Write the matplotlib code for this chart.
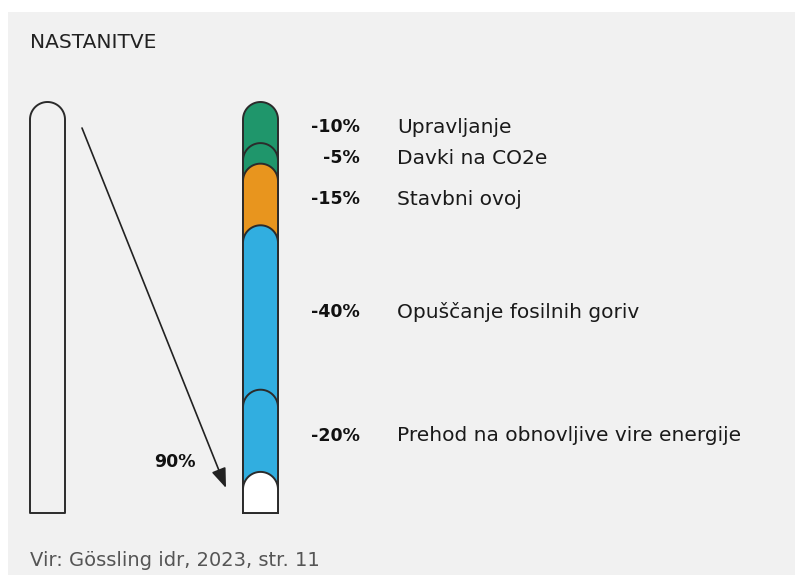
import numpy as np
import matplotlib
matplotlib.use("Agg")
import matplotlib.pyplot as plt
from matplotlib.patches import Polygon, Rectangle

# Reduction steps (percent of emissions), top to bottom
labels = ["Upravljanje", "Davki na CO2e", "Stavbni ovoj",
          "Opuščanje fosilnih goriv", "Prehod na obnovljive vire energije"]
reductions = [10, 5, 15, 40, 20]
colors = ["#1f966b", "#1f966b", "#e8951e", "#31aee0", "#31aee0"]
total = 100
remaining = total - sum(reductions)
total_cut = sum(reductions)

W, H = 795, 575
S = 4.11          # pixels per percent unit
BASE = 513        # pixel row of the 0 % line

fig = plt.figure(figsize=(W / 100, H / 100), dpi=100)
fig.patch.set_facecolor("white")
ax = fig.add_axes([0, 0, 1, 1])
ax.set_xlim(0, W / S)
ax.set_ylim(-(H - BASE) / S, BASE / S)
ax.set_aspect("equal")
ax.axis("off")


def px(x, y):
    return x / S, (BASE - y) / S


# light panel behind everything
x0, y0 = px(8, H)
ax.add_patch(Rectangle((x0, y0), (W - 8) / S, (H - 12) / S,
                       facecolor="#f1f1f1", edgecolor="none", zorder=0))

EDGE = "#2b2b2b"
bar_w = 35 / S
r = bar_w / 2


def capsule(x, top, color, z):
    t = np.linspace(np.pi, 0, 60)
    cx, cy = x + r, top - r
    arc = np.column_stack([cx + r * np.cos(t), cy + r * np.sin(t)])
    pts = np.vstack([[x, 0], arc, [x + bar_w, 0]])
    ax.add_patch(Polygon(pts, closed=True, facecolor=color, edgecolor=EDGE,
                         lw=1.4, zorder=z, joinstyle="round"))


# full emissions column
capsule(30 / S, total, "#f1f1f1", 2)

# stacked column: every step covers everything below it
bar_x = 243 / S
tops = total - np.concatenate([[0], np.cumsum(reductions)])
for i, (top, c) in enumerate(zip(tops[:-1], colors)):
    capsule(bar_x, top, c, 3 + i)
capsule(bar_x, remaining, "white", 3 + len(reductions))

# labels next to each step
for top, val, lab in zip(tops[:-1], reductions, labels):
    y = top - val / 2 - 1.2
    ax.text(360 / S, y, f"-{val}%", ha="right", va="center",
            fontsize=12.5, fontweight="bold", color="#111111", zorder=10)
    ax.text(397 / S, y, lab, ha="left", va="center",
            fontsize=14.5, color="#1a1a1a", zorder=10)

# arrow from the full column to the remainder
ax.annotate("", xy=px(226, 488), xytext=px(82, 128),
            arrowprops=dict(arrowstyle="-|>,head_length=0.8,head_width=0.3",
                            color="#222222", lw=1.2,
                            mutation_scale=15, shrinkA=0, shrinkB=0),
            zorder=10)
ax.text(*px(175, 462), f"{total_cut}%", ha="center", va="center",
        fontsize=12.5, fontweight="bold", color="#111111", zorder=10)

ax.text(*px(30, 42), "NASTANITVE", ha="left", va="center",
        fontsize=14.5, color="#222222", zorder=10)
ax.text(*px(30, 561), "Vir: Gössling idr, 2023, str. 11", ha="left",
        va="center", fontsize=14, color="#555555", zorder=10)

fig.savefig("out.png", dpi=100, facecolor="white")
